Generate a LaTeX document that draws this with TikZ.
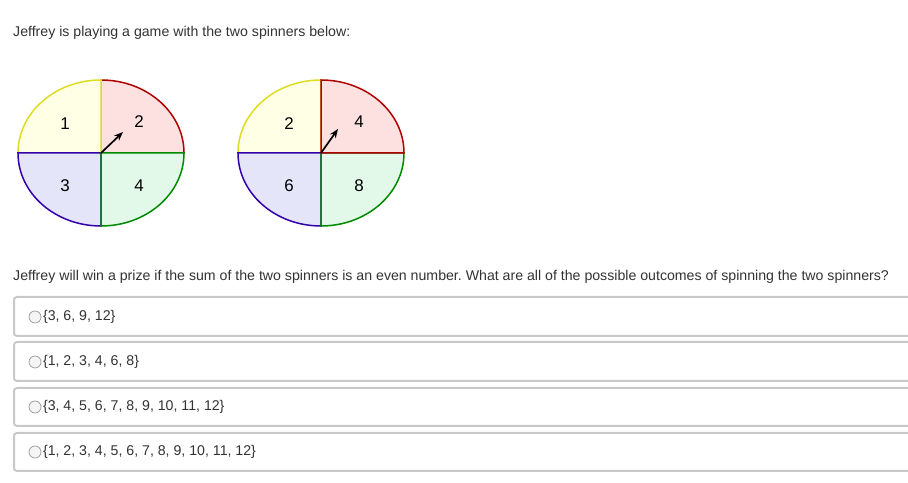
\documentclass[tikz,border=0pt]{standalone}
\usepackage{fontspec}
\setmainfont{Liberation Sans}
\usetikzlibrary{arrows.meta}
\frenchspacing
\definecolor{txt}{HTML}{333333}
\definecolor{yelline}{HTML}{DDDD22}
\definecolor{yelfill}{HTML}{FFFFE6}
\definecolor{redline}{HTML}{B00000}
\definecolor{redfill}{HTML}{FDE1E1}
\definecolor{bluline}{HTML}{3300AA}
\definecolor{blufill}{HTML}{E5E5F9}
\definecolor{grnline}{HTML}{008A00}
\definecolor{grnfill}{HTML}{E2F8E8}
\definecolor{boxline}{HTML}{C8C8C8}
\tikzset{
  txtnode/.style={anchor=west, inner sep=0pt, text=txt, font=\fontsize{14.2}{16}\selectfont},
  numnode/.style={inner sep=0pt, text=black, font=\fontsize{17}{18}\selectfont},
  optbox/.style={draw=boxline, line width=2bp, rounded corners=3bp},
  radio/.style={circle, draw=gray!80, fill=gray!8, line width=0.7bp, minimum size=12bp, inner sep=0pt},
}
\begin{document}
\begin{tikzpicture}[x=1bp, y=1bp]
\useasboundingbox[fill=white] (0,0) rectangle (908,483);
\node[txtnode] (title) at (13,450) {Jeffrey is playing a game with the two spinners below:};
% spinner A
\fill[redfill, draw=redline, line width=1.5bp] (101,330) -- (101,403) arc[start angle=90, end angle=0, x radius=83, y radius=73] -- cycle;
\fill[yelfill, draw=yelline, line width=1.5bp] (101,330) -- (18,330) arc[start angle=180, end angle=90, x radius=83, y radius=73] -- cycle;
\fill[blufill, draw=bluline, line width=1.5bp] (101,330) -- (101,257) arc[start angle=270, end angle=180, x radius=83, y radius=73] -- cycle;
\fill[grnfill, draw=grnline, line width=1.5bp] (101,330) -- (184,330) arc[start angle=0, end angle=-90, x radius=83, y radius=73] -- cycle;
\coordinate (hubA) at (101,330);
\coordinate (tipA) at (123,351);
\draw[line width=1.7bp, -{Stealth[length=9bp, width=7bp]}] (hubA) -- (tipA);
\node[numnode] (a1) at (65,359) {1};
\node[numnode] (a2) at (139,361) {2};
\node[numnode] (a3) at (65,297) {3};
\node[numnode] (a4) at (139,297) {4};
% spinner B
\fill[yelfill, draw=yelline, line width=1.5bp] (321,330) -- (238,330) arc[start angle=180, end angle=90, x radius=83, y radius=73] -- cycle;
\fill[blufill, draw=bluline, line width=1.5bp] (321,330) -- (321,257) arc[start angle=270, end angle=180, x radius=83, y radius=73] -- cycle;
\fill[grnfill, draw=grnline, line width=1.5bp] (321,330) -- (404,330) arc[start angle=0, end angle=-90, x radius=83, y radius=73] -- cycle;
\fill[redfill, draw=redline, line width=1.5bp] (321,330) -- (321,403) arc[start angle=90, end angle=0, x radius=83, y radius=73] -- cycle;
\coordinate (hubB) at (321,330);
\coordinate (tipB) at (338,354);
\draw[line width=1.7bp, -{Stealth[length=9bp, width=7bp]}] (hubB) -- (tipB);
\node[numnode] (b1) at (289,359) {2};
\node[numnode] (b2) at (359,361) {4};
\node[numnode] (b3) at (289,297) {6};
\node[numnode] (b4) at (359,297) {8};
% question and choices
\node[txtnode] (question) at (13,206) {Jeffrey will win a prize if the sum of the two spinners is an even number. What are all of the possible outcomes of spinning the two spinners?};
\draw[optbox] (915,186) -- (14,186) -- (14,147) -- (915,147);
\draw[optbox] (915,141) -- (14,141) -- (14,102) -- (915,102);
\draw[optbox] (915,95) -- (14,95) -- (14,57) -- (915,57);
\draw[optbox] (915,50) -- (14,50) -- (14,12) -- (915,12);
\node[radio] (r1) at (35,166) {};
\node[radio] (r2) at (35,121) {};
\node[radio] (r3) at (35,76) {};
\node[radio] (r4) at (35,31) {};
\node[txtnode, anchor=west] (o1) at ([xshift=1.5bp]r1.east) {\{3, 6, 9, 12\}};
\node[txtnode, anchor=west] (o2) at ([xshift=1.5bp]r2.east) {\{1, 2, 3, 4, 6, 8\}};
\node[txtnode, anchor=west] (o3) at ([xshift=1.5bp]r3.east) {\{3, 4, 5, 6, 7, 8, 9, 10, 11, 12\}};
\node[txtnode, anchor=west] (o4) at ([xshift=1.5bp]r4.east) {\{1, 2, 3, 4, 5, 6, 7, 8, 9, 10, 11, 12\}};
\end{tikzpicture}
\end{document}
